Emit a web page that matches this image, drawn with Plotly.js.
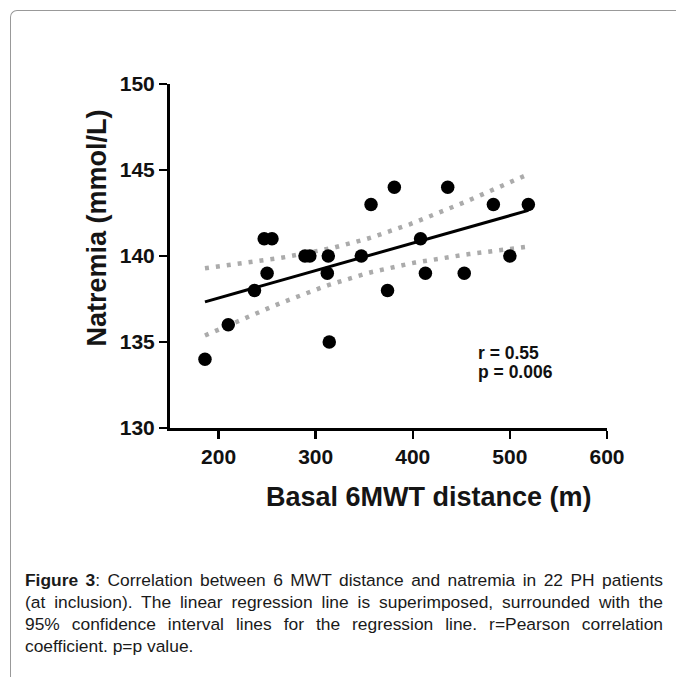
<!DOCTYPE html>
<html>
<head>
<meta charset="utf-8">
<script src="https://cdn.plot.ly/plotly-3.0.1.min.js"></script>
<style>
  html, body { margin:0; padding:0; background:#fff; width:676px; height:677px; overflow:hidden; }
  #frame { position:absolute; left:10px; top:10px; width:700px; height:700px; border-top:1.5px solid #999; border-left:1.5px solid #999; border-top-left-radius:7px; }
  #chart { position:absolute; left:0; top:0; width:676px; height:540px; }
  #caption { position:absolute; left:25px; top:569px; width:638px; font-family:"Liberation Sans", Arial, sans-serif; font-size:17.4px; line-height:22px; color:#1a1a1a; }
  #caption .ln { text-align:justify; text-align-last:justify; white-space:nowrap; }
  #caption .ln.last { text-align-last:left; }
</style>
</head>
<body>
<div id="frame"></div>
<div id="chart"></div>
<div id="caption">
  <div class="ln"><b>Figure 3</b>: Correlation between 6 MWT distance and natremia in 22 PH patients</div>
  <div class="ln">(at inclusion). The linear regression line is superimposed, surrounded with the</div>
  <div class="ln">95% confidence interval lines for the regression line. r=Pearson correlation</div>
  <div class="ln last">coefficient. p=p value.</div>
</div>
<script>
// Data: basal 6MWT distance (m) vs natremia (mmol/L)
const distance = [186, 210, 237, 247, 255, 250, 289, 294, 313, 312, 314, 347, 357, 381, 436, 408, 413, 453, 374, 483, 500, 519];
const natremia = [134, 136, 138, 141, 141, 139, 140, 140, 140, 139, 135, 140, 143, 144, 144, 141, 139, 139, 138, 143, 140, 143];
const xTicks = [200, 300, 400, 500, 600];
const yTicks = [130, 135, 140, 145, 150];
const xTitle = 'Basal 6MWT distance (m)';
const yTitle = 'Natremia (mmol/L)';
const statsLines = ["r = 0.55", "p = 0.006"];
const tCrit = 2.086; // t(0.975, df=20)

// Linear regression with 95% CI for the mean line
const n = distance.length;
const mx = distance.reduce((a,b)=>a+b,0)/n;
const my = natremia.reduce((a,b)=>a+b,0)/n;
let sxx=0, sxy=0;
for (let i=0;i<n;i++){ sxx += (distance[i]-mx)**2; sxy += (distance[i]-mx)*(natremia[i]-my); }
const slope = sxy/sxx, intercept = my - slope*mx;
let sse=0;
for (let i=0;i<n;i++){ sse += (natremia[i]-(intercept+slope*distance[i]))**2; }
const s = Math.sqrt(sse/(n-2));
const xmin = Math.min(...distance), xmax = Math.max(...distance);
const gx=[], fit=[], lo=[], hi=[];
for (let k=0;k<=60;k++){
  const x = xmin + (xmax-xmin)*k/60;
  const yh = intercept + slope*x;
  const se = s*Math.sqrt(1/n + (x-mx)**2/sxx);
  gx.push(x); fit.push(yh); lo.push(yh - tCrit*se); hi.push(yh + tCrit*se);
}

const dotLine = {color:'#ababab', width:4.5, dash:'4px,7px'};
const traces = [
  {x:gx, y:hi, mode:'lines', line:dotLine, hoverinfo:'skip'},
  {x:gx, y:lo, mode:'lines', line:dotLine, hoverinfo:'skip'},
  {x:[gx[0], gx[gx.length-1]], y:[fit[0], fit[fit.length-1]], mode:'lines', line:{color:'#000', width:3}},
  {x:distance, y:natremia, mode:'markers', marker:{color:'#000', size:13.5}}
];

const fam = '"Liberation Sans", Arial, sans-serif';
const tickFont = {family:fam, size:21, color:'#111', weight:'bold'};
const titleFont = {family:fam, size:27, color:'#151515', weight:'bold'};
const statFont = {family:fam, size:17.5, color:'#111', weight:'bold'};
const layout = {
  width:676, height:540,
  margin:{l:170, r:69, t:84, b:112},
  paper_bgcolor:'rgba(0,0,0,0)', plot_bgcolor:'rgba(0,0,0,0)',
  showlegend:false,
  xaxis:{
    range:[150,600], tickvals:xTicks, ticktext:xTicks.map(String),
    showgrid:false, zeroline:false, showline:true, linecolor:'#000', linewidth:3,
    ticks:'outside', ticklen:8, tickwidth:2.5, tickcolor:'#000', tickfont:tickFont
  },
  yaxis:{
    range:[130,150], tickvals:yTicks, ticktext:yTicks.map(String),
    showgrid:false, zeroline:false, showline:true, linecolor:'#000', linewidth:3,
    ticks:'outside', ticklen:8, tickwidth:2.5, tickcolor:'#000', tickfont:tickFont
  },
  annotations:[
    {x:0.592, y:-0.20, xref:'paper', yref:'paper', xanchor:'center', yanchor:'middle',
     text:xTitle, showarrow:false, font:titleFont},
    {x:-0.167, y:0.58, xref:'paper', yref:'paper', xanchor:'center', yanchor:'middle',
     text:yTitle, textangle:-90, showarrow:false, font:titleFont},
    {x:465.5, y:134.36, xref:'x', yref:'y', xanchor:'left', yanchor:'middle', align:'left',
     text:statsLines[0], showarrow:false, font:statFont},
    {x:465.5, y:133.26, xref:'x', yref:'y', xanchor:'left', yanchor:'middle', align:'left',
     text:statsLines[1], showarrow:false, font:statFont}
  ]
};
Plotly.newPlot('chart', traces, layout, {staticPlot:true, displayModeBar:false});
</script>
</body>
</html>
